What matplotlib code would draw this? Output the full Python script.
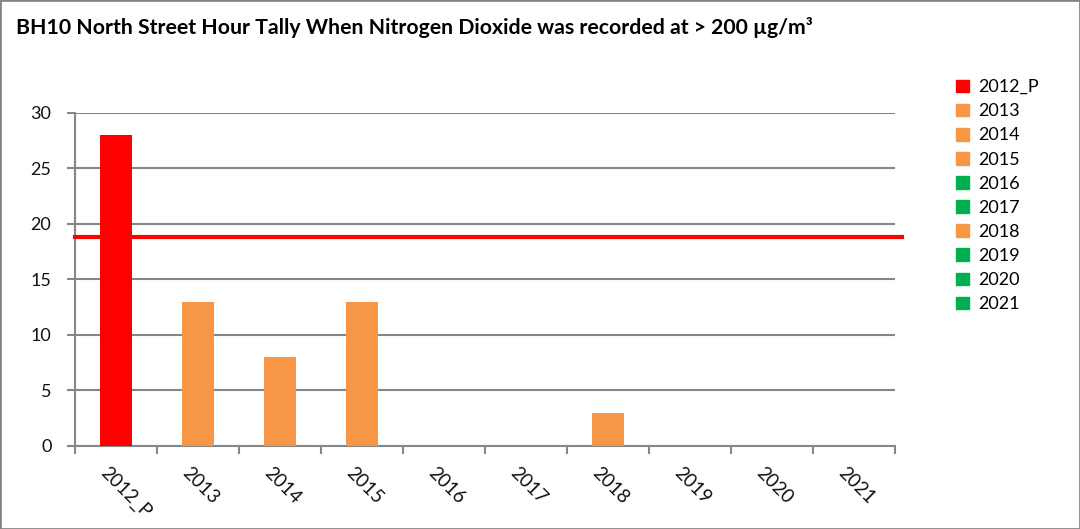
import matplotlib.pyplot as plt
from matplotlib.patches import Patch, Rectangle

years = ['2012_P', '2013', '2014', '2015', '2016', '2017', '2018', '2019', '2020', '2021']
hours = [28, 13, 8, 13, 0, 0, 3, 0, 0, 0]
colours = ['#FF0000', '#F79646', '#F79646', '#F79646', '#00B050',
           '#00B050', '#F79646', '#00B050', '#00B050', '#00B050']
limit = 18.8

plt.rcParams['font.family'] = ['Lato', 'DejaVu Sans']
grey = '#868686'

fig = plt.figure(figsize=(10.8, 5.29), dpi=100)
ax = fig.add_axes([75 / 1080, 1 - 446 / 529, 820 / 1080, (446 - 112.7) / 529])

x = list(range(len(years)))
ax.bar(x, hours, width=0.4, color=colours, zorder=3)
ax.axhline(limit, xmin=0, xmax=1.008, color='#FF0000', lw=3, clip_on=False, zorder=4)

ax.set_xlim(-0.5, len(years) - 0.5)
ax.set_ylim(0, 30)
ax.set_yticks(range(0, 31, 5))
ax.grid(axis='y', color=grey, lw=1.5, zorder=0)
ax.set_xticks([i - 0.5 for i in range(len(years) + 1)])
ax.set_xticklabels([])
for i, lab in enumerate(years):
    ax.text(i - 0.08, -1.6, lab, rotation=-45, ha='left', va='top',
            rotation_mode='anchor', fontsize=13.5, color='#111111')
ax.tick_params(axis='both', direction='out', length=6, width=1.5, color=grey,
               labelsize=13, labelcolor='#111111')
ax.tick_params(axis='y', pad=11)
for s in ['top', 'right']:
    ax.spines[s].set_visible(False)
for s in ['left', 'bottom']:
    ax.spines[s].set_color(grey)
    ax.spines[s].set_linewidth(1.5)

handles = [Patch(color=c) for c in colours]
fig.legend(handles, years, loc='upper left', bbox_to_anchor=(940 / 1080, 1 - 63 / 529),
           frameon=False, fontsize=13, handlelength=0.7, handleheight=0.7,
           handletextpad=0.5, labelspacing=0.45)

fig.text(16 / 1080, 1 - 28 / 529, 'BH10 North Street Hour Tally When Nitrogen Dioxide was recorded at > 200 µg/m³',
         fontsize=15.3, fontweight='bold', va='center', ha='left')

fig.patches.append(Rectangle((0, 0), 1, 1, transform=fig.transFigure, fill=False,
                             edgecolor=grey, lw=2))

fig.savefig('out.png', dpi=100)
